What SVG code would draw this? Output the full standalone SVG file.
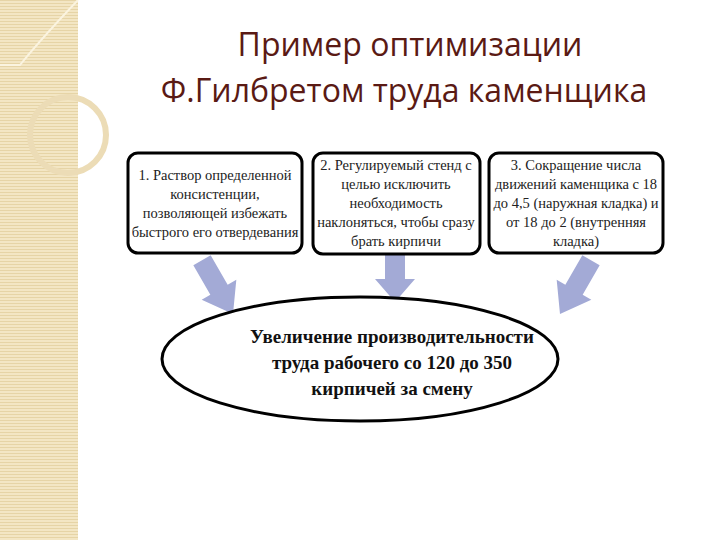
<svg xmlns="http://www.w3.org/2000/svg" width="720" height="540" viewBox="0 0 720 540">
<defs>
<pattern id="stripes" width="4" height="3" patternUnits="userSpaceOnUse"><rect width="4" height="3" fill="#f3e6c4"/><rect width="4" height="1" fill="#e6d4a6"/></pattern>
<style>
.box{fill:#fff;stroke:#000;stroke-width:3}
.t{font-family:"Liberation Serif","DejaVu Serif",serif;font-size:14.5px;fill:#222;text-anchor:middle}
.b{font-family:"Liberation Serif","DejaVu Serif",serif;font-size:19px;font-weight:bold;fill:#111;text-anchor:middle}
.h{font-family:"Open Sans","DejaVu Sans",sans-serif;font-size:32px;fill:#5a1a14;text-anchor:middle}
.arr{fill:#a3aad6}
</style>
</defs>
<rect width="720" height="540" fill="#fff"/>
<g id="sidebar">
<rect x="0" y="0" width="78" height="540" fill="url(#stripes)"/>
<path d="M78 0 Q40 40 20 65 L0 65" fill="none" stroke="#fbf4e0" stroke-width="2"/>
<circle cx="68" cy="135" r="38" fill="none" stroke="#ecdcb6" stroke-width="6"/>
</g>
<g id="title">
<text class="h" x="410" y="56">Пример оптимизации</text>
<text class="h" x="404" y="102">Ф.Гилбретом труда каменщика</text>
</g>
<g id="connectors">
<polygon class="arr" transform="translate(218,288) rotate(-30)" points="-10,-32 10,-32 10,2 20,2 0,30 -20,2 -10,2"/>
<polygon class="arr" transform="translate(395,277)" points="-10,-22 10,-22 10,2 20,2 0,25 -20,2 -10,2"/>
<polygon class="arr" transform="translate(575,288) rotate(30)" points="-10,-32 10,-32 10,2 20,2 0,30 -20,2 -10,2"/>
</g>
<g id="n1"><rect class="box" x="128" y="153" width="174" height="100" rx="10"/>
<text class="t" x="215" y="180">1. Раствор определенной</text><text class="t" x="215" y="199">консистенции,</text><text class="t" x="215" y="218">позволяющей избежать</text><text class="t" x="215" y="237">быстрого его отвердевания</text></g>
<g id="n2"><rect class="box" x="313" y="153" width="167" height="101" rx="10"/>
<text class="t" x="396" y="170">2. Регулируемый стенд с</text><text class="t" x="396" y="189">целью исключить</text><text class="t" x="396" y="208">необходимость</text><text class="t" x="396" y="227">наклоняться, чтобы сразу</text><text class="t" x="396" y="246">брать кирпичи</text></g>
<g id="n3"><rect class="box" x="489" y="153" width="174" height="100" rx="10"/>
<text class="t" x="576" y="170">3. Сокращение числа</text><text class="t" x="576" y="189">движений каменщика с 18</text><text class="t" x="576" y="208">до 4,5 (наружная кладка) и</text><text class="t" x="576" y="227">от 18 до 2 (внутренняя</text><text class="t" x="576" y="246">кладка)</text></g>
<g id="n4"><ellipse cx="360" cy="359" rx="198" ry="62" fill="#fff" stroke="#000" stroke-width="3"/>
<text class="b" x="392" y="343">Увеличение производительности</text><text class="b" x="392" y="369">труда рабочего со 120 до 350</text><text class="b" x="392" y="395">кирпичей за смену</text></g>
</svg>
